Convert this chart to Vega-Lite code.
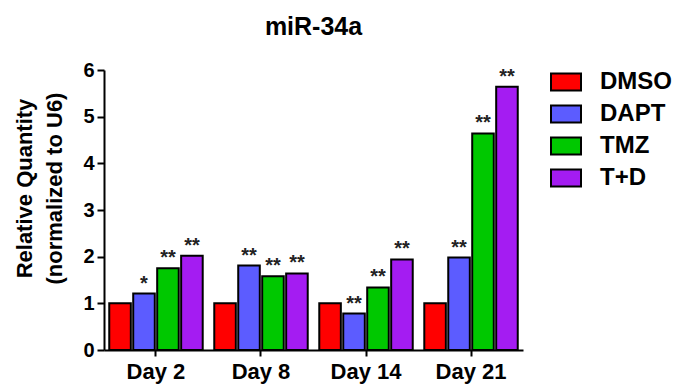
{
  "$schema": "https://vega.github.io/schema/vega-lite/v6.json",
  "autosize": "none",
  "width": 419,
  "height": 280,
  "padding": {"left": 104, "top": 70, "right": 157, "bottom": 35},
  "background": "white",
  "config": {"view": {"stroke": null}, "font": "Liberation Sans"},
  "title": {"text": "miR-34a", "fontSize": 25, "fontWeight": "bold", "font": "Liberation Sans", "color": "black", "anchor": "middle", "baseline": "alphabetic", "frame": "group", "offset": 0},
  "data": {"values": [
    {"day": "Day 2", "group": "DMSO", "value": 1.0, "sig": ""},
    {"day": "Day 2", "group": "DAPT", "value": 1.21, "sig": "*"},
    {"day": "Day 2", "group": "TMZ", "value": 1.75, "sig": "**"},
    {"day": "Day 2", "group": "T+D", "value": 2.02, "sig": "**"},
    {"day": "Day 8", "group": "DMSO", "value": 1.0, "sig": ""},
    {"day": "Day 8", "group": "DAPT", "value": 1.81, "sig": "**"},
    {"day": "Day 8", "group": "TMZ", "value": 1.58, "sig": "**"},
    {"day": "Day 8", "group": "T+D", "value": 1.64, "sig": "**"},
    {"day": "Day 14", "group": "DMSO", "value": 1.0, "sig": ""},
    {"day": "Day 14", "group": "DAPT", "value": 0.78, "sig": "**"},
    {"day": "Day 14", "group": "TMZ", "value": 1.34, "sig": "**"},
    {"day": "Day 14", "group": "T+D", "value": 1.94, "sig": "**"},
    {"day": "Day 21", "group": "DMSO", "value": 1.0, "sig": ""},
    {"day": "Day 21", "group": "DAPT", "value": 1.98, "sig": "**"},
    {"day": "Day 21", "group": "TMZ", "value": 4.64, "sig": "**"},
    {"day": "Day 21", "group": "T+D", "value": 5.64, "sig": "**"}
  ]},
  "encoding": {
    "x": {"field": "day", "type": "nominal", "sort": ["Day 2", "Day 8", "Day 14", "Day 21"],
      "scale": {"paddingInner": 0.11, "paddingOuter": 0.05},
      "axis": {"title": null, "labelAngle": 0, "labelFontSize": 22, "labelFontWeight": "bold", "labelColor": "black", "labelFont": "Liberation Sans",
        "domainColor": "black", "domainWidth": 2, "tickColor": "black", "tickWidth": 2, "tickSize": 6, "labelPadding": 5}},
    "xOffset": {"field": "group", "type": "nominal", "sort": ["DMSO", "DAPT", "TMZ", "T+D"], "scale": {"paddingInner": 0.1}},
    "y": {"field": "value", "type": "quantitative", "scale": {"domain": [0, 6], "nice": false},
      "axis": {"values": [0, 1, 2, 3, 4, 5, 6], "grid": false, "labelFontSize": 20, "labelFontWeight": "bold", "labelColor": "black", "labelFont": "Liberation Sans",
        "domainColor": "black", "domainWidth": 2, "tickColor": "black", "tickWidth": 2, "tickSize": 7, "labelPadding": 3,
        "title": ["Relative  Quantity", "(normalized to U6)"], "titleFontSize": 22, "titleFontWeight": "bold", "titleColor": "black", "titleFont": "Liberation Sans",
        "titleAngle": -90, "titleAlign": "center", "titleBaseline": "alphabetic", "titleLineHeight": 30, "titleX": -73, "titleY": 118}}
  },
  "layer": [
    {
      "mark": {"type": "bar", "stroke": "black", "strokeWidth": 2},
      "encoding": {
        "color": {"field": "group", "type": "nominal", "sort": ["DMSO", "DAPT", "TMZ", "T+D"],
          "scale": {"domain": ["DMSO", "DAPT", "TMZ", "T+D"], "range": ["#FF0000", "#5C5CFF", "#00C800", "#A41CF2"]},
          "legend": {"title": null, "orient": "none", "legendX": 446, "legendY": -4, "padding": 0,
            "symbolType": "M-1,-0.57H1V0.57H-1Z", "symbolSize": 900, "symbolStrokeColor": "black", "symbolStrokeWidth": 2, "symbolOpacity": 1,
            "labelFontSize": 24, "labelFontWeight": "bold", "labelColor": "black", "labelFont": "Liberation Sans", "labelOffset": 18, "rowPadding": 3}}
      }
    },
    {
      "mark": {"type": "text", "fontSize": 20, "fontWeight": "bold", "font": "Liberation Sans", "color": "#222", "baseline": "alphabetic", "dy": -4},
      "encoding": {"text": {"field": "sig"}}
    }
  ]
}
